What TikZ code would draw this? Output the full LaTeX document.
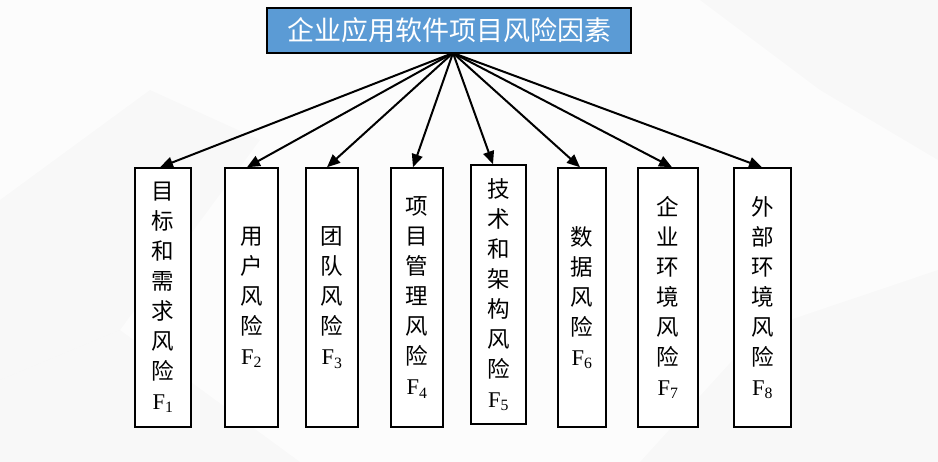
\documentclass[tikz,border=0pt]{standalone}
\usepackage{fontspec}
\setmainfont{Liberation Serif}
\newfontfamily\cjk{Noto Sans CJK SC}
\usepackage{tikz}
\usetikzlibrary{arrows.meta}

\definecolor{titleblue}{HTML}{5B9BD5}
\tikzset{
    riskbox/.style={draw, line width=1.5pt, fill=white, minimum height=259, inner sep=0pt,
        align=center, font=\cjk\fontsize{22.5}{30}\selectfont},
    topbox/.style={draw, line width=1.5pt, fill=titleblue, text=white, minimum width=364,
        minimum height=45, inner sep=0pt, font=\cjk\fontsize{27}{27}\selectfont},
    bgpoly/.style={fill=black, opacity=0.015}
}

\begin{document}
\begin{tikzpicture}[x=1pt, y=-1pt, >={Triangle[length=13pt,width=11pt]}]

    % background
    \fill[gray!2] (0,0) rectangle (938,462);
    \fill[bgpoly] (0,200) -- (150,90) -- (260,140) -- (120,330) -- (0,380) -- cycle;
    \fill[bgpoly] (0,380) -- (120,330) -- (300,462) -- (0,462) -- cycle;
    \fill[bgpoly] (700,0) -- (938,0) -- (938,160) -- (820,90) -- cycle;
    \fill[bgpoly] (760,330) -- (938,270) -- (938,462) -- (640,462) -- cycle;
    \useasboundingbox (0,0) rectangle (938,462);

    % Define nodes
    \node[topbox] (top) at (449,30.5) {企业应用软件项目风险因素};
    \coordinate (hub) at (453,53);

    \foreach \i/\x/\y/\w/\txt in {1/163/297.5/56/{目\\标\\和\\需\\求\\风\\险},
                                  2/251.5/297.5/53/{用\\户\\风\\险},
                                  3/332/297.5/52/{团\\队\\风\\险},
                                  4/417/297.5/52/{项\\目\\管\\理\\风\\险},
                                  5/498.5/294.5/55/{技\\术\\和\\架\\构\\风\\险},
                                  6/582/297.5/48/{数\\据\\风\\险},
                                  7/668/297.5/60/{企\\业\\环\\境\\风\\险},
                                  8/762.5/297.5/57/{外\\部\\环\\境\\风\\险}} {
        \node[riskbox, minimum width=\w] (f\i) at (\x,\y) {\txt\\{\rmfamily F\textsubscript{\i}}};
    }

    % Draw edges with arrows
    \foreach \i/\dx in {1/-3, 2/-4.5, 3/-5, 4/-4, 5/-5.5, 6/-2, 7/4, 8/-0.5} {
        \draw[->, line width=2pt] (hub) -- ([xshift=\dx]f\i.north);
    }

\end{tikzpicture}
\end{document}
